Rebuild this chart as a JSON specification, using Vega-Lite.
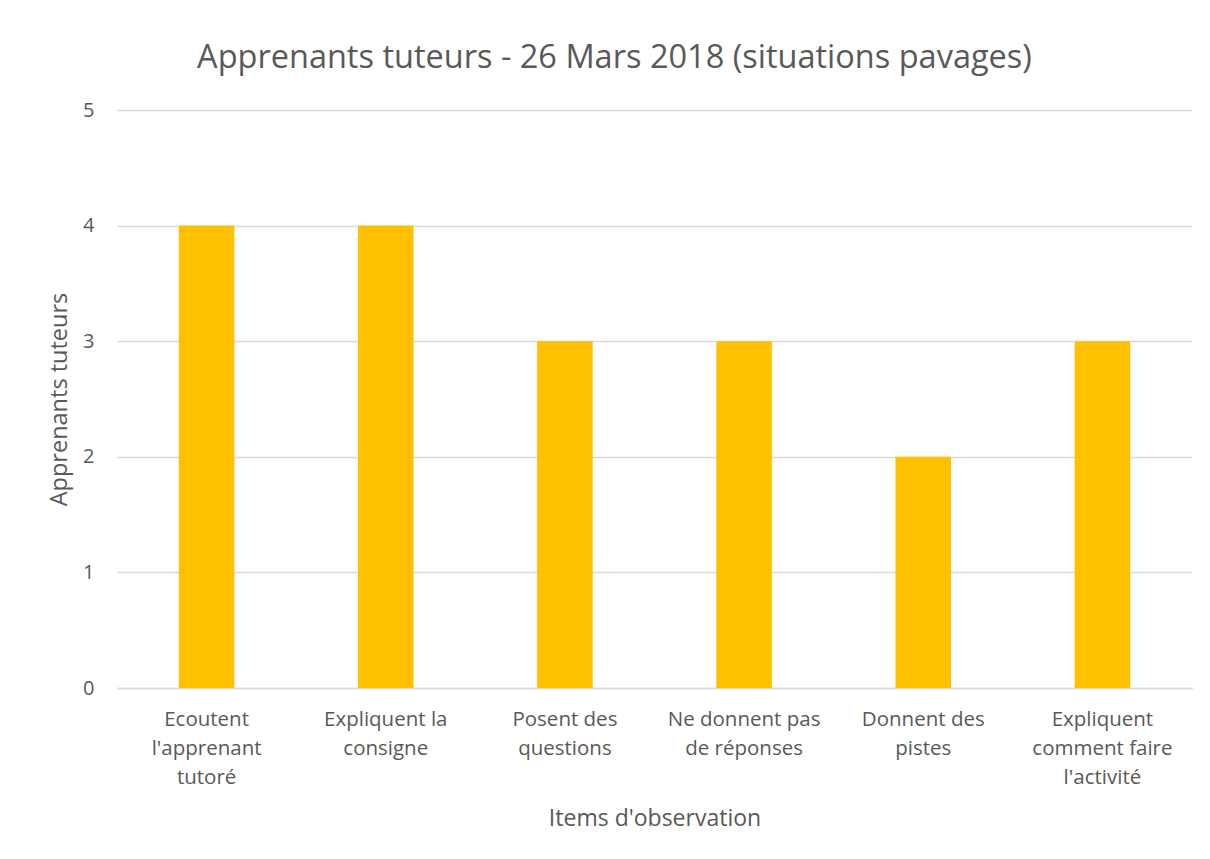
{
  "$schema": "https://vega.github.io/schema/vega-lite/v6.json",
  "width": 1075,
  "height": 578,
  "autosize": {"type": "none"},
  "padding": {"left": 117, "top": 110, "right": 18, "bottom": 171},
  "background": "white",
  "title": {
    "text": "Apprenants tuteurs - 26 Mars 2018 (situations pavages)",
    "font": "Open Sans",
    "fontSize": 32.5,
    "fontWeight": "normal",
    "color": "#595959",
    "anchor": "middle",
    "dx": -40,
    "baseline": "alphabetic",
    "offset": 0
  },
  "data": {
    "values": [
      {"item": "Ecoutent l'apprenant tutoré", "valeur": 4},
      {"item": "Expliquent la consigne", "valeur": 4},
      {"item": "Posent des questions", "valeur": 3},
      {"item": "Ne donnent pas de réponses", "valeur": 3},
      {"item": "Donnent des pistes", "valeur": 2},
      {"item": "Expliquent comment faire l'activité", "valeur": 3}
    ]
  },
  "mark": {"type": "bar", "color": "#FFC000"},
  "encoding": {
    "x": {
      "field": "item",
      "type": "nominal",
      "sort": null,
      "scale": {"paddingInner": 0.69, "paddingOuter": 0.345},
      "axis": {
        "title": "Items d'observation",
        "titleFont": "Open Sans",
        "titleFontSize": 23,
        "titleFontWeight": "normal",
        "titleColor": "#595959",
        "titlePadding": 20,
        "labelFont": "Open Sans",
        "labelFontSize": 20.5,
        "labelColor": "#595959",
        "labelAngle": 0,
        "labelPadding": 21,
        "labelLineHeight": 29,
        "labelBaseline": "top",
        "labelExpr": "datum.value == \"Ecoutent l'apprenant tutoré\" ? ['Ecoutent', \"l'apprenant\", 'tutoré'] : datum.value == 'Expliquent la consigne' ? ['Expliquent la', 'consigne'] : datum.value == 'Posent des questions' ? ['Posent des', 'questions'] : datum.value == 'Ne donnent pas de réponses' ? ['Ne donnent pas', 'de réponses'] : datum.value == 'Donnent des pistes' ? ['Donnent des', 'pistes'] : ['Expliquent', 'comment faire', \"l'activité\"]",
        "ticks": false,
        "domainColor": "#D9D9D9",
        "domainWidth": 1.5,
        "grid": false
      }
    },
    "y": {
      "field": "valeur",
      "type": "quantitative",
      "scale": {"domain": [0, 5]},
      "axis": {
        "title": "Apprenants tuteurs",
        "titleFont": "Open Sans",
        "titleFontSize": 23.5,
        "titleFontWeight": "normal",
        "titleColor": "#595959",
        "titlePadding": 11,
        "labelFont": "Open Sans",
        "labelFontSize": 20,
        "labelColor": "#595959",
        "labelPadding": 23,
        "values": [0, 1, 2, 3, 4, 5],
        "ticks": false,
        "domain": false,
        "grid": true,
        "gridColor": "#D9D9D9",
        "gridWidth": 1.5
      }
    }
  },
  "config": {"view": {"stroke": null}}
}
